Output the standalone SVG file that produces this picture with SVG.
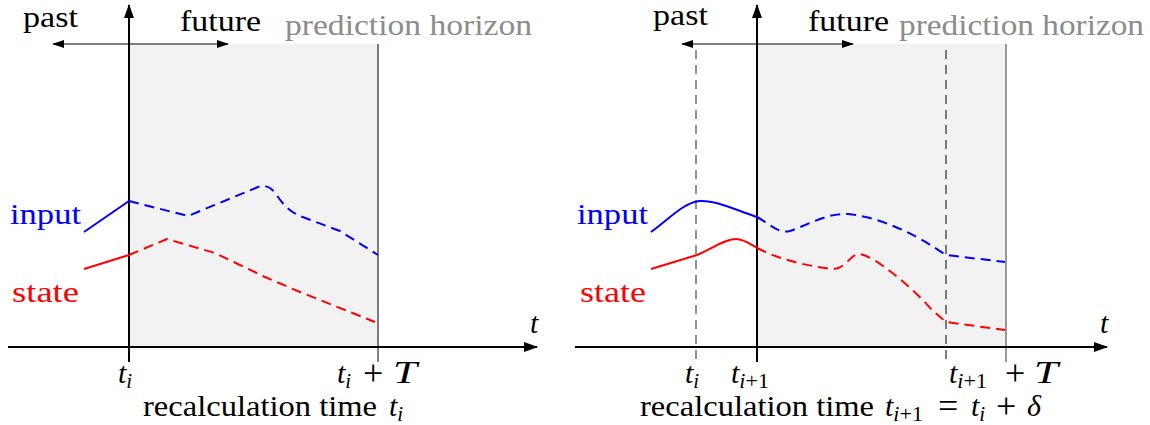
<svg xmlns="http://www.w3.org/2000/svg" width="1150" height="425" viewBox="0 0 1150 425">
<defs>
<marker id="big" markerWidth="14" markerHeight="10" refX="13" refY="5" orient="auto-start-reverse" markerUnits="userSpaceOnUse"><path d="M0,0 L14,5 L0,10 z" fill="#000"/></marker>
<marker id="sm" markerWidth="12" markerHeight="8" refX="11" refY="4" orient="auto-start-reverse" markerUnits="userSpaceOnUse"><path d="M0,0 L12,4 L0,8 z" fill="#000"/></marker>
</defs>

<g id="left-panel">
<rect x="129" y="44" width="249" height="303" fill="#f2f2f2"/>
<line x1="378" y1="44" x2="378" y2="362" stroke="#000" stroke-width="1"/>
<g id="left-connectors" fill="none">
<line x1="8" y1="347" x2="537" y2="347" stroke="#000" stroke-width="2" marker-end="url(#big)"/>
<line x1="129" y1="362" x2="129" y2="5" stroke="#000" stroke-width="2" marker-end="url(#big)"/>
<line x1="53" y1="44" x2="228" y2="44" stroke="#000" stroke-width="1.2" marker-start="url(#sm)" marker-end="url(#sm)"/>
<g stroke="#0000ff" stroke-width="2" stroke-linejoin="round">
<polyline points="84,232 129,201"/>
<path stroke-dasharray="10 6" d="M129,201 L188,216 L258,187 Q268,183 276,194 Q286,210 300,216 L340,231 L378,255"/>
</g>
<g stroke="#ff0000" stroke-width="2" stroke-linejoin="round">
<polyline points="84,269 129,255"/>
<path stroke-dasharray="10 6" d="M129,255 L167,239 L215,253 L265,277 L300,292 L375,322"/>
</g>
</g>
</g>

<g id="right-panel">
<rect x="757" y="44" width="249" height="303" fill="#f2f2f2"/>
<line x1="1006" y1="44" x2="1006" y2="362" stroke="#808080" stroke-width="1.6"/>
<g id="right-connectors" fill="none">
<line x1="696" y1="50" x2="696" y2="362" stroke="#666" stroke-width="1.4" stroke-dasharray="9 6"/>
<line x1="946" y1="50" x2="946" y2="362" stroke="#000" stroke-width="1" stroke-dasharray="9 6"/>
<line x1="575" y1="347" x2="1107" y2="347" stroke="#000" stroke-width="2" marker-end="url(#big)"/>
<line x1="757" y1="362" x2="757" y2="5" stroke="#000" stroke-width="2" marker-end="url(#big)"/>
<line x1="682" y1="44" x2="853" y2="44" stroke="#000" stroke-width="1.2" marker-start="url(#sm)" marker-end="url(#sm)"/>
<g stroke="#0000ff" stroke-width="2" stroke-linejoin="round">
<path d="M651,232 C668,220 684,202 700,201 C716,200 738,211 757,217"/>
<path stroke-dasharray="10 6" d="M757,217 C770,224 778,234 790,231 C808,225 826,213 848,214 C880,217 915,235 932,246 L946,255 L1005,262"/>
</g>
<g stroke="#ff0000" stroke-width="2" stroke-linejoin="round">
<path d="M651,269 L697,255 C712,249 724,239 736,239 C744,239 750,244 757,248"/>
<path stroke-dasharray="10 6" d="M757,248 C780,260 808,266 832,269 C845,270 850,254 860,254 C875,256 915,290 932,310 L946,322 L1005,330"/>
</g>
</g>
</g>

<text x="23" y="27" style="font-family:'Liberation Serif',serif;font-size:30px" textLength="55" lengthAdjust="spacingAndGlyphs">past</text>
<text x="180" y="31" style="font-family:'Liberation Serif',serif;font-size:30px" textLength="81" lengthAdjust="spacingAndGlyphs">future</text>
<text x="285" y="35" style="font-family:'Liberation Serif',serif;font-size:30px;fill:#8c8c8c" textLength="247" lengthAdjust="spacingAndGlyphs">prediction horizon</text>
<text x="10" y="224" style="font-family:'Liberation Serif',serif;font-size:30px;fill:#0000ff" textLength="71" lengthAdjust="spacingAndGlyphs">input</text>
<text x="12" y="302" style="font-family:'Liberation Serif',serif;font-size:30px;fill:#ff0000" textLength="67" lengthAdjust="spacingAndGlyphs">state</text>
<text x="530" y="333" style="font-family:'Liberation Serif',serif;font-size:30px;font-style:italic">t</text>
<text x="118" y="383" style="font-family:'Liberation Serif',serif;font-size:30px;font-style:italic">t<tspan dy="5" style="font-size:21px">i</tspan></text>
<text x="337" y="383" style="font-family:'Liberation Serif',serif;font-size:30px;font-style:italic">t<tspan dy="5" style="font-size:21px">i</tspan></text>
<text x="363" y="385" style="font-family:'Liberation Serif',serif;font-size:36px">+</text>
<text x="393" y="383" style="font-family:'Liberation Serif',serif;font-size:31px;font-style:italic" textLength="24" lengthAdjust="spacingAndGlyphs">T</text>
<text x="143" y="416" style="font-family:'Liberation Serif',serif;font-size:30px" textLength="234" lengthAdjust="spacingAndGlyphs">recalculation time</text>
<text x="389" y="416" style="font-family:'Liberation Serif',serif;font-size:30px;font-style:italic">t<tspan dy="5" style="font-size:21px">i</tspan></text>

<text x="653" y="25" style="font-family:'Liberation Serif',serif;font-size:30px" textLength="55" lengthAdjust="spacingAndGlyphs">past</text>
<text x="808" y="31" style="font-family:'Liberation Serif',serif;font-size:30px" textLength="81" lengthAdjust="spacingAndGlyphs">future</text>
<text x="899" y="35" style="font-family:'Liberation Serif',serif;font-size:30px;fill:#8c8c8c" textLength="245" lengthAdjust="spacingAndGlyphs">prediction horizon</text>
<text x="577" y="224" style="font-family:'Liberation Serif',serif;font-size:30px;fill:#0000ff" textLength="71" lengthAdjust="spacingAndGlyphs">input</text>
<text x="580" y="302" style="font-family:'Liberation Serif',serif;font-size:30px;fill:#ff0000" textLength="66" lengthAdjust="spacingAndGlyphs">state</text>
<text x="1100" y="333" style="font-family:'Liberation Serif',serif;font-size:30px;font-style:italic">t</text>
<text x="685" y="383" style="font-family:'Liberation Serif',serif;font-size:30px;font-style:italic">t<tspan dy="5" style="font-size:21px">i</tspan></text>
<text x="731" y="383" style="font-family:'Liberation Serif',serif;font-size:30px;font-style:italic">t<tspan dy="5" style="font-size:22px">i</tspan><tspan style="font-size:22px;font-style:normal">+1</tspan></text>
<text x="949" y="383" style="font-family:'Liberation Serif',serif;font-size:30px;font-style:italic">t<tspan dy="5" style="font-size:22px">i</tspan><tspan style="font-size:22px;font-style:normal">+1</tspan></text>
<text x="1005" y="385" style="font-family:'Liberation Serif',serif;font-size:36px">+</text>
<text x="1034" y="383" style="font-family:'Liberation Serif',serif;font-size:31px;font-style:italic" textLength="24" lengthAdjust="spacingAndGlyphs">T</text>
<text x="640" y="416" style="font-family:'Liberation Serif',serif;font-size:30px" textLength="234" lengthAdjust="spacingAndGlyphs">recalculation time</text>
<text x="885" y="416" style="font-family:'Liberation Serif',serif;font-size:30px;font-style:italic">t<tspan dy="5" style="font-size:22px">i</tspan><tspan style="font-size:22px;font-style:normal">+1</tspan></text>
<text x="938" y="418" style="font-family:'Liberation Serif',serif;font-size:36px">=</text>
<text x="971" y="416" style="font-family:'Liberation Serif',serif;font-size:30px;font-style:italic">t<tspan dy="5" style="font-size:21px">i</tspan></text>
<text x="996" y="418" style="font-family:'Liberation Serif',serif;font-size:36px">+</text>
<text x="1027" y="416" style="font-family:'Liberation Serif',serif;font-size:30px;font-style:italic">&#948;</text>
</svg>
